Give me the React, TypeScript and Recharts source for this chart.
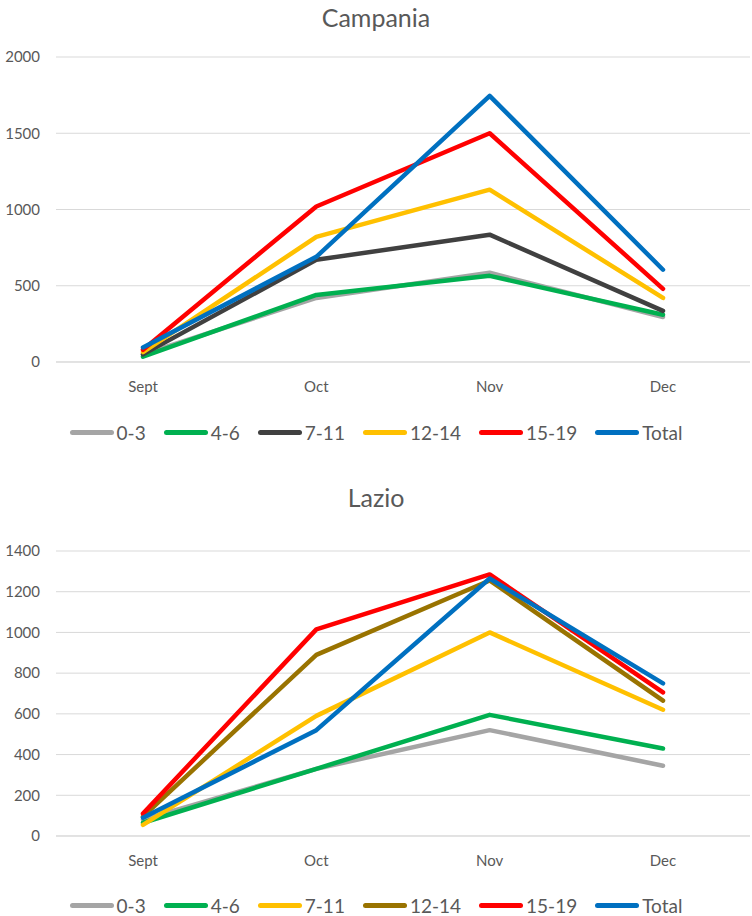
import React from "react";
import { LineChart, Line, XAxis, YAxis, CartesianGrid } from "recharts";

const months = ["Sept", "Oct", "Nov", "Dec"];

// Campania
const campSeriesNames = ["0-3", "4-6", "7-11", "12-14", "15-19", "Total"];
const camp0_3 = [50, 420, 585, 295];
const camp4_6 = [35, 440, 565, 310];
const camp7_11 = [50, 670, 835, 335];
const camp12_14 = [65, 820, 1130, 420];
const camp15_19 = [80, 1020, 1500, 480];
const campTotal = [95, 690, 1745, 605];
const campColors = ["#A5A5A5", "#00B050", "#404040", "#FFC000", "#FF0000", "#0070C0"];
const campTicks = [0, 500, 1000, 1500, 2000];

// Lazio
const lazSeriesNames = ["0-3", "4-6", "7-11", "12-14", "15-19", "Total"];
const laz0_3 = [80, 330, 520, 345];
const laz4_6 = [65, 330, 595, 430];
const laz7_11 = [55, 590, 1000, 620];
const laz12_14 = [95, 890, 1255, 665];
const laz15_19 = [110, 1015, 1285, 705];
const lazTotal = [90, 520, 1265, 750];
const lazColors = ["#A5A5A5", "#00B050", "#FFC000", "#997300", "#FF0000", "#0070C0"];
const lazTicks = [0, 200, 400, 600, 800, 1000, 1200, 1400];

const FONT = "Lato, 'Open Sans', sans-serif";

function build(series: number[][], names: string[]) {
  return months.map((m, i) => {
    const row: any = { month: m };
    names.forEach((n, j) => (row[n] = series[j][i]));
    return row;
  });
}

const campData = build([camp0_3, camp4_6, camp7_11, camp12_14, camp15_19, campTotal], campSeriesNames);
const lazData = build([laz0_3, laz4_6, laz7_11, laz12_14, laz15_19, lazTotal], lazSeriesNames);

function LegendRow({ names, colors, top }: { names: string[]; colors: string[]; top: number }) {
  return (
    <div
      style={{
        position: "absolute",
        top: top - 12,
        left: 0,
        width: 752,
        height: 24,
        display: "flex",
        justifyContent: "center",
        alignItems: "center",
        fontFamily: FONT,
        fontSize: 19,
        color: "#595959",
      }}
    >
      {names.map((n, i) => (
        <div key={n} style={{ display: "flex", alignItems: "center", marginLeft: i === 0 ? 0 : 18 }}>
          <div style={{ width: 44, height: 5, borderRadius: 3, background: colors[i] }} />
          <span style={{ marginLeft: 3 }}>{n}</span>
        </div>
      ))}
    </div>
  );
}

function Panel({
  title,
  data,
  names,
  colors,
  ticks,
  domainMax,
  top,
  marginTop,
  marginBottom,
  legendY,
}: any) {
  return (
    <div style={{ position: "absolute", left: 0, top, width: 752, height: 458 }}>
      <div
        style={{
          position: "absolute",
          top: 0,
          left: 0,
          width: 752,
          textAlign: "center",
          fontFamily: FONT,
          fontSize: 25,
          color: "#595959",
          lineHeight: "34px",
        }}
      >
        {title}
      </div>
      <div style={{ position: "absolute", left: 0, top: 0 }}>
        <LineChart
          width={752}
          height={458}
          data={data}
          margin={{ top: marginTop, right: 2, bottom: marginBottom, left: 0 }}
        >
          <CartesianGrid vertical={false} stroke="#D9D9D9" strokeWidth={1} />
          <XAxis
            dataKey="month"
            axisLine={{ stroke: "#D9D9D9" }}
            tickLine={false}
            tickSize={0}
            tickMargin={19}
            height={30}
            padding={{ left: 87, right: 87 }}
            tick={{ fill: "#595959", fontSize: 15, fontFamily: FONT }}
          />
          <YAxis
            domain={[0, domainMax]}
            ticks={ticks}
            axisLine={false}
            tickLine={false}
            tickSize={0}
            tickMargin={16}
            width={56}
            tick={{ fill: "#595959", fontSize: 15, fontFamily: FONT }}
          />
          {names.map((n: string, i: number) => (
            <Line
              key={n}
              type="linear"
              dataKey={n}
              stroke={colors[i]}
              strokeWidth={4.5}
              dot={false}
              activeDot={false}
              isAnimationActive={false}
              strokeLinecap="round"
              strokeLinejoin="round"
            />
          ))}
        </LineChart>
      </div>
      <LegendRow names={names} colors={colors} top={legendY} />
    </div>
  );
}

export default function App() {
  return (
    <div style={{ position: "absolute", left: 0, top: 0, width: 752, height: 916, background: "#fff" }}>
      <Panel
        title="Campania"
        data={campData}
        names={campSeriesNames}
        colors={campColors}
        ticks={campTicks}
        domainMax={2000}
        top={0}
        marginTop={57}
        marginBottom={66}
        legendY={432}
      />
      <Panel
        title="Lazio"
        data={lazData}
        names={lazSeriesNames}
        colors={lazColors}
        ticks={lazTicks}
        domainMax={1400}
        top={480}
        marginTop={71}
        marginBottom={72}
        legendY={425}
      />
    </div>
  );
}
